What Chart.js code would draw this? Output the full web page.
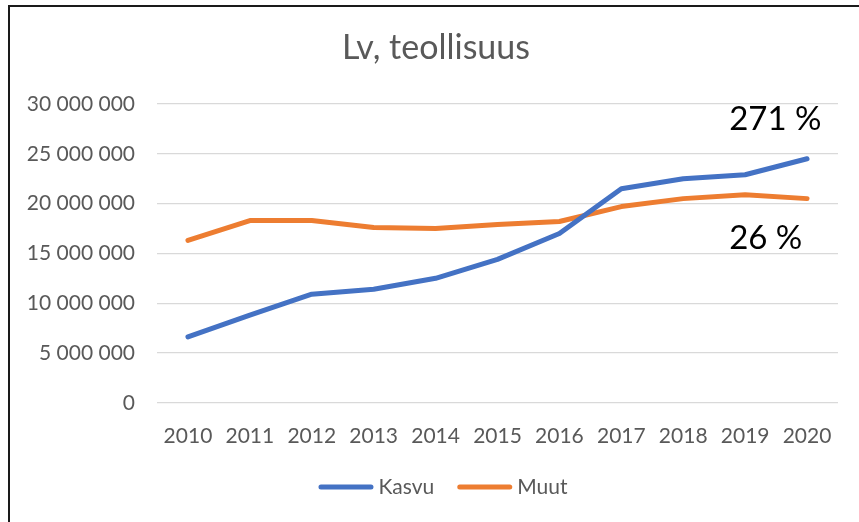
<!DOCTYPE html>
<html>
<head>
<meta charset="utf-8">
<script src="https://cdn.jsdelivr.net/npm/chart.js@4"></script>
<style>
  html, body { margin: 0; padding: 0; background: #fff; }
  #wrap { position: relative; width: 859px; height: 522px; }
  #frame {
    position: absolute; left: 8px; top: 5px; right: -4px; bottom: -4px;
    border-left: 2px solid #1a1a1a; border-top: 2px solid #1a1a1a;
    pointer-events: none;
  }
</style>
</head>
<body>
<div id="wrap">
  <canvas id="chart" width="859" height="522"></canvas>
  <div id="frame"></div>
</div>
<script>
// Lv, teollisuus: kasvuyritykset vs muut
const years = ['2010', '2011', '2012', '2013', '2014', '2015', '2016', '2017', '2018', '2019', '2020'];
const kasvu = [6610000, 8800000, 10900000, 11400000, 12500000, 14400000, 17000000, 21500000, 22500000, 22900000, 24500000];
const muut = [16300000, 18300000, 18300000, 17600000, 17500000, 17900000, 18200000, 19700000, 20500000, 20900000, 20500000];
const yTicks = [0, 5000000, 10000000, 15000000, 20000000, 25000000, 30000000];
const chartTitle = 'Lv, teollisuus';

const FONT = 'Lato, "Open Sans", sans-serif';
const GREY = '#595959';

function fmt(v) {
  return String(v).replace(/\B(?=(\d{3})+(?!\d))/g, ' ');
}

// change from first to last year, in percent
function growth(arr) {
  return Math.round((arr[arr.length - 1] / arr[0] - 1) * 100) + ' %';
}

// title, growth labels and the legend, placed like the Excel original
const decorations = {
  id: 'decorations',
  afterDatasetsDraw(chart) {
    const { ctx, scales: { x, y } } = chart;
    ctx.save();

    // title
    ctx.fillStyle = GREY;
    ctx.font = '34px ' + FONT;
    ctx.textAlign = 'center';
    ctx.textBaseline = 'middle';
    ctx.fillText(chartTitle, 436, 48);

    // growth labels
    const left = x.getPixelForValue(years.length - 2) - 16;
    ctx.fillStyle = '#000';
    ctx.font = '33px ' + FONT;
    ctx.textAlign = 'left';
    ctx.fillText(growth(kasvu), left, y.getPixelForValue(28450000));
    ctx.fillText(growth(muut), left, y.getPixelForValue(16500000));

    // legend
    const lineW = 55, gap = 5, itemGap = 23, ly = 487;
    ctx.font = '21px ' + FONT;
    const items = chart.data.datasets.map(ds => ({ text: ds.label, color: ds.borderColor, w: ctx.measureText(ds.label).width }));
    const total = items.reduce((s, it) => s + lineW + gap + it.w, 0) + itemGap * (items.length - 1);
    let lx = 443 - total / 2;
    items.forEach(it => {
      ctx.strokeStyle = it.color;
      ctx.lineWidth = 5;
      ctx.lineCap = 'round';
      ctx.beginPath();
      ctx.moveTo(lx + 2.5, ly);
      ctx.lineTo(lx + lineW - 2.5, ly);
      ctx.stroke();
      ctx.fillStyle = GREY;
      ctx.fillText(it.text, lx + lineW + gap, ly);
      lx += lineW + gap + it.w + itemGap;
    });

    ctx.restore();
  }
};

const lineStyle = {
  borderWidth: 5,
  pointRadius: 0,
  pointHoverRadius: 0,
  borderCapStyle: 'round',
  borderJoinStyle: 'round',
  tension: 0,
  fill: false
};

new Chart(document.getElementById('chart'), {
  type: 'line',
  data: {
    labels: years,
    datasets: [
      { label: 'Kasvu', data: kasvu, borderColor: '#4472C4', backgroundColor: '#4472C4', ...lineStyle },
      { label: 'Muut', data: muut, borderColor: '#ED7D31', backgroundColor: '#ED7D31', ...lineStyle }
    ]
  },
  options: {
    responsive: false,
    animation: false,
    layout: { padding: { top: 104, right: 21, bottom: 60, left: 0 } },
    plugins: {
      title: { display: false },
      legend: { display: false },
      tooltip: { enabled: false }
    },
    scales: {
      x: {
        offset: true,
        grid: { display: false },
        border: { display: false },
        ticks: { color: GREY, font: { family: FONT, size: 21 }, padding: 13, maxRotation: 0 }
      },
      y: {
        min: 0,
        max: 30000000,
        afterBuildTicks(scale) {
          scale.ticks = yTicks.map(v => ({ value: v }));
        },
        afterFit(scale) { scale.width = 157; },
        grid: { color: '#d9d9d9', lineWidth: 1.3, drawTicks: false },
        border: { display: false },
        ticks: {
          color: GREY,
          font: { family: FONT, size: 21 },
          padding: 22,
          callback: v => fmt(v)
        }
      }
    }
  },
  plugins: [decorations]
});
</script>
</body>
</html>
